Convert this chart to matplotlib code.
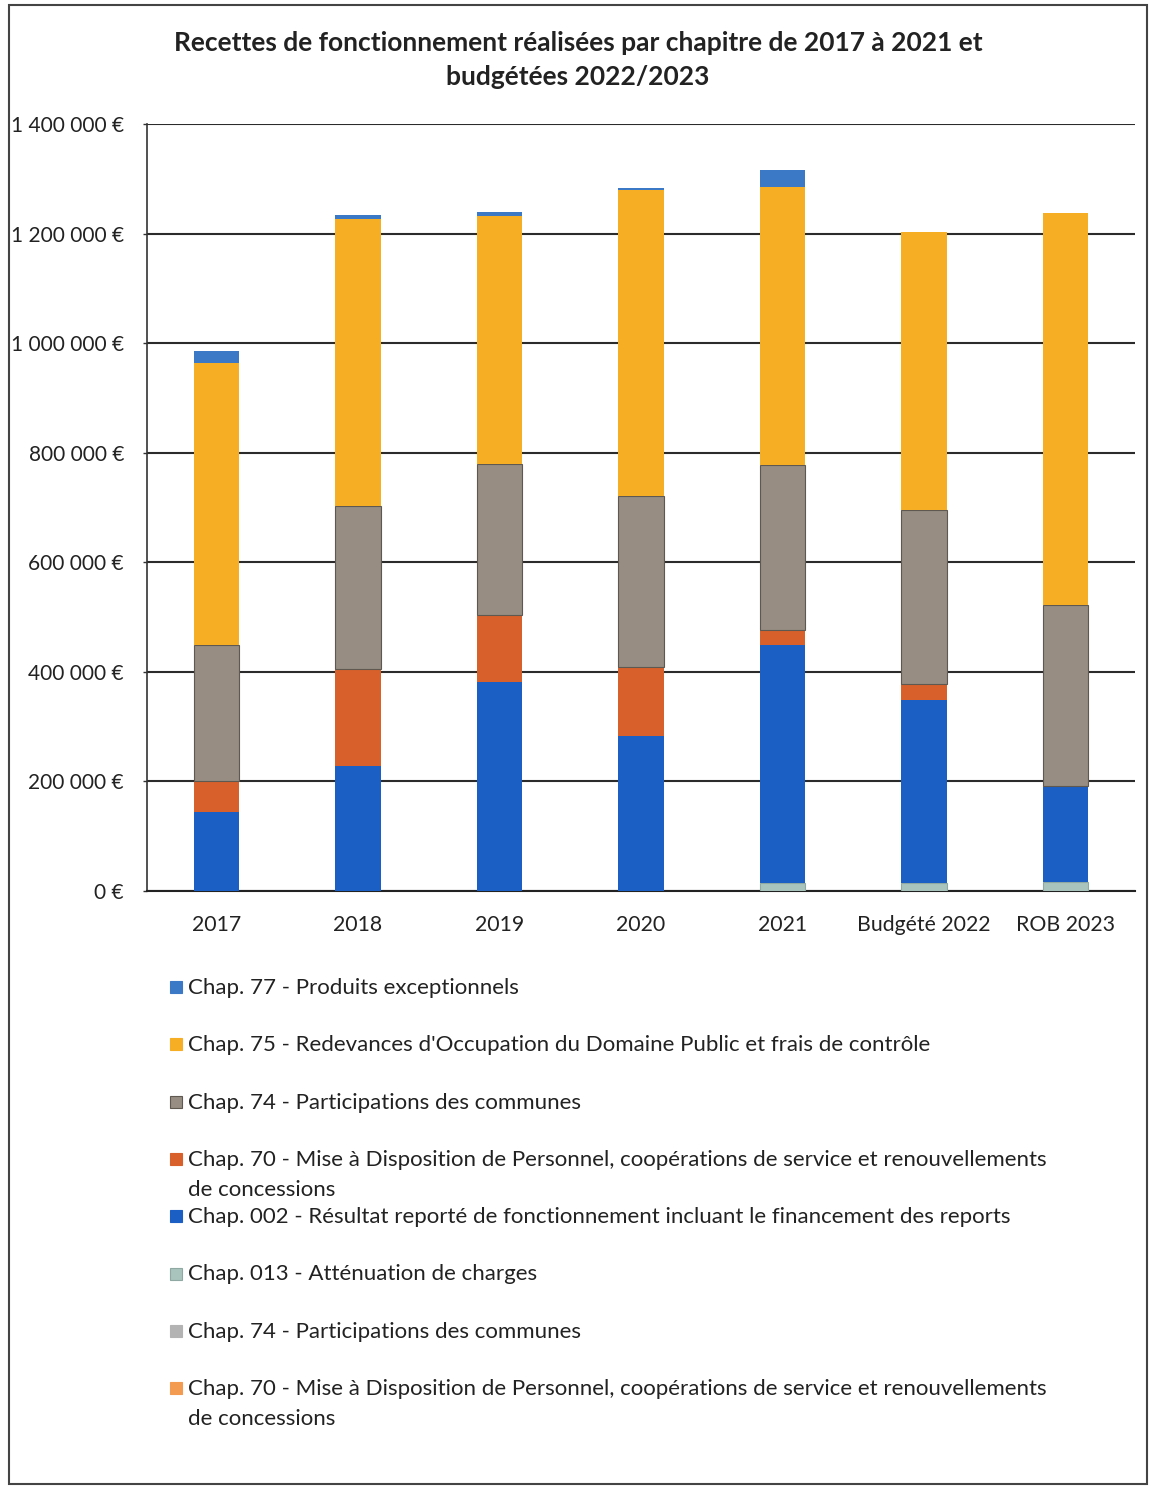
import matplotlib.pyplot as plt
import numpy as np
from matplotlib.patches import Rectangle

plt.rcParams['font.family'] = ['Lato', 'DejaVu Sans']

# Data (EUR), stacked bottom to top
years = ['2017', '2018', '2019', '2020', '2021', 'Budgété 2022', 'ROB 2023']
chap013 = [0, 0, 0, 0, 15000, 15000, 17000]
chap002 = [145000, 228000, 381000, 283000, 434000, 334000, 172000]
chap70 = [55000, 177000, 123000, 126000, 27000, 29000, 3000]
chap74 = [249000, 298000, 275000, 312000, 301000, 317000, 330000]
chap75 = [515000, 524000, 453000, 558000, 508000, 508000, 715000]
chap77 = [22000, 7000, 7000, 4000, 31000, 0, 0]
chap74_b = [0, 0, 0, 0, 0, 0, 0]
chap70_b = [0, 0, 0, 0, 0, 0, 0]

lab77 = "Chap. 77 - Produits exceptionnels"
lab75 = "Chap. 75 - Redevances d'Occupation du Domaine Public et frais de contrôle"
lab74 = "Chap. 74 - Participations des communes"
lab70 = ("Chap. 70 - Mise à Disposition de Personnel, coopérations de service et renouvellements\n"
         "de concessions")
lab002 = "Chap. 002 - Résultat reporté de fonctionnement incluant le financement des reports"
lab013 = "Chap. 013 - Atténuation de charges"

# (values, color, label, edge) stacked order
series = [
    (chap013, '#a9c4bd', lab013, '#8fa9a2'),
    (chap002, '#1c5fc4', lab002, None),
    (chap70, '#d8612b', lab70, None),
    (chap74, '#978d82', lab74, '#5f5851'),
    (chap75, '#f6ae25', lab75, None),
    (chap77, '#3b79c6', lab77, None),
    (chap74_b, '#b3b3b3', lab74, None),
    (chap70_b, '#f39b50', lab70, None),
]
legend_order = [5, 4, 3, 2, 1, 0, 6, 7]

W, H = 1151, 1487
fig = plt.figure(figsize=(W / 100, H / 100), dpi=100)
ax = fig.add_axes([147 / W, 1 - 891 / H, (1135 - 147) / W, (891 - 124) / H])

x = np.arange(len(years))
bottom = np.zeros(len(years))
for vals, col, lab, edge in series:
    v = np.array(vals, dtype=float)
    ax.bar(x, v, 0.32, bottom=bottom, color=col,
           edgecolor=edge if edge else col, linewidth=0.8 if edge else 0, zorder=3)
    bottom += v

ax.set_xlim(-0.49, 6.49)
ax.set_ylim(0, 1400000)
yt = np.arange(0, 1400001, 200000)
ax.set_yticks(yt)
ax.set_yticklabels(['{:,.0f} €'.format(v).replace(',', ' ') for v in yt], fontsize=15, color='#222222')
ax.set_xticks(x)
ax.set_xticklabels(years, fontsize=15.3, color='#222222')
ax.tick_params(axis='x', length=0, pad=17)
ax.tick_params(axis='y', length=3, pad=13.5, width=1.0, color='#333333')
ax.grid(axis='y', color='#2b2b2b', linewidth=1.5, zorder=0)
ax.set_axisbelow(True)
for s in ['top', 'right']:
    ax.spines[s].set_visible(False)
ax.spines['left'].set_color('#333333')
ax.spines['left'].set_linewidth(1.2)
ax.spines['bottom'].set_color('#222222')
ax.spines['bottom'].set_linewidth(1.5)

fig.text(578 / W, 1 - 60 / H,
         "Recettes de fonctionnement réalisées par chapitre de 2017 à 2021 et\nbudgétées 2022/2023",
         ha='center', va='center', fontsize=19, fontweight='bold', color='#222222', linespacing=1.5)

# legend drawn as a column of entries
y0, step = 987, 57.3
for i, k in enumerate(legend_order):
    vals, col, lab, edge = series[k]
    yc = y0 + i * step
    fig.add_artist(Rectangle((170 / W, 1 - (yc + 6) / H), 12 / W, 12 / H,
                             transform=fig.transFigure, facecolor=col,
                             edgecolor=edge if edge else col, linewidth=0.8))
    fig.text(188 / W, 1 - (yc - 9) / H, lab, ha='left', va='top',
             fontsize=16, color='#222222', linespacing=1.6)

# outer frame
fig.add_artist(Rectangle((9 / W, 1 - 1484 / H), (1147 - 9) / W, (1484 - 5) / H,
                         transform=fig.transFigure, fill=False,
                         edgecolor='#444444', linewidth=1.5))

fig.savefig('out.png', dpi=100)
